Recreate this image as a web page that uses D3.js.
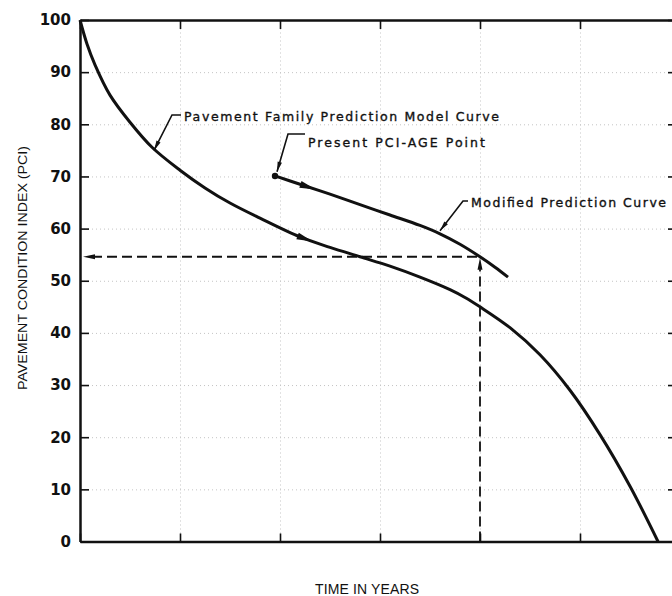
<!DOCTYPE html>
<html>

<head>
  <meta charset="utf-8">
  <title>PCI prediction</title>
  <style>
    body { margin: 0; background: #fff; }
  </style>
</head>

<body>
  <svg width="672" height="596"></svg>
  <script src="https://d3js.org/d3.v7.min.js"></script>
  <script>
    // data (years, PCI)
    var familyYears = [0, 0.07, 0.15, 0.3, 0.5, 0.72, 1.0, 1.25, 1.5, 1.8, 2.2, 2.5, 2.8, 3.1, 3.4, 3.7, 3.85, 4.0, 4.3, 4.6, 4.9, 5.2, 5.5, 5.78];
    var familyPCI = [100, 95.4, 91.4, 85.6, 80.4, 75.6, 71.2, 67.8, 64.9, 62.0, 58.4, 56.4, 54.6, 52.8, 50.7, 48.3, 46.8, 45.0, 41.0, 35.8, 29.0, 20.5, 10.6, 0];
    var modifiedYears = [1.95, 2.2, 2.5, 2.8, 3.1, 3.4, 3.6, 3.8, 4.0, 4.15, 4.28];
    var modifiedPCI = [70.1, 68.5, 66.6, 64.6, 62.6, 60.6, 59.0, 57.0, 54.6, 52.6, 50.7];
    var presentPoint = [1.95, 70.1];
    var targetPoint = [4.0, 54.6];
    var yTicks = [0, 10, 20, 30, 40, 50, 60, 70, 80, 90, 100];
    var xTicks = [0, 1, 2, 3, 4, 5, 6];
    var labels = ["Pavement Family Prediction Model Curve", "Present PCI-AGE Point", "Modified Prediction Curve"];

    var svg = d3.select("svg");
    var xScale = d3.scaleLinear().domain([0, 6]).range([80, 680]);
    var yScale = d3.scaleLinear().domain([0, 100]).range([541.5, 20]);

    var family = familyYears.map((t, i) => [t, familyPCI[i]]);
    var modified = modifiedYears.map((t, i) => [t, modifiedPCI[i]]);

    // dotted grid
    svg.append("g")
      .attr("transform", "translate(0,541.5)")
      .call(d3.axisBottom(xScale).tickValues(xTicks.slice(1)).tickSize(-521.5).tickFormat(""))
      .call(g => g.select(".domain").remove())
      .selectAll("line").attr("stroke", "#c4c4c4").attr("stroke-dasharray", "1,3");
    svg.append("g")
      .attr("transform", "translate(80,0)")
      .call(d3.axisLeft(yScale).tickValues(yTicks.slice(1, -1)).tickSize(-600).tickFormat(""))
      .call(g => g.select(".domain").remove())
      .selectAll("line").attr("stroke", "#c4c4c4").attr("stroke-dasharray", "1,3");

    // frame + inward ticks
    function styleAxis(g) {
      g.select(".domain").attr("stroke", "#111").attr("stroke-width", 2.5);
      g.selectAll(".tick line").attr("stroke", "#111").attr("stroke-width", 1.6);
    }
    svg.append("g").attr("transform", "translate(0,541.5)")
      .call(d3.axisBottom(xScale).tickValues(xTicks).tickSize(-8).tickSizeOuter(0).tickFormat(""))
      .call(styleAxis);
    svg.append("g").attr("transform", "translate(0,20)")
      .call(d3.axisTop(xScale).tickValues(xTicks).tickSize(-9).tickSizeOuter(0).tickFormat(""))
      .call(styleAxis);
    svg.append("g").attr("transform", "translate(680,0)")
      .call(d3.axisRight(yScale).tickValues(yTicks).tickSize(-12).tickSizeOuter(0).tickFormat(""))
      .call(styleAxis);
    svg.append("g").attr("transform", "translate(80,0)")
      .call(d3.axisLeft(yScale).tickValues(yTicks).tickSize(-9).tickSizeOuter(0).tickPadding(9))
      .call(styleAxis)
      .call(g => g.selectAll("text")
        .attr("font-family", "'DejaVu Sans', sans-serif")
        .attr("font-weight", "bold")
        .attr("font-size", 15)
        .attr("fill", "#111"));

    // axis titles
    svg.append("text")
      .attr("transform", "translate(27,268) rotate(-90)")
      .attr("text-anchor", "middle")
      .attr("font-family", "'Liberation Sans', sans-serif")
      .attr("font-size", 13.5)
      .attr("textLength", 244)
      .attr("lengthAdjust", "spacingAndGlyphs")
      .attr("fill", "#111")
      .text("PAVEMENT CONDITION INDEX (PCI)");
    svg.append("text")
      .attr("x", 315).attr("y", 594)
      .attr("font-family", "'Liberation Sans', sans-serif")
      .attr("font-size", 14)
      .attr("textLength", 104)
      .attr("fill", "#111")
      .text("TIME IN YEARS");

    // dashed guide lines
    var guide = d3.line().x(d => xScale(d[0])).y(d => yScale(d[1]));
    svg.append("path")
      .attr("d", guide([[0.12, targetPoint[1]], targetPoint]))
      .attr("fill", "none").attr("stroke", "#111").attr("stroke-width", 1.8)
      .attr("stroke-dasharray", "10,5");
    svg.append("path")
      .attr("d", guide([[targetPoint[0], 0], [targetPoint[0], targetPoint[1] - 2.4]]))
      .attr("fill", "none").attr("stroke", "#111").attr("stroke-width", 1.8)
      .attr("stroke-dasharray", "10,5");

    // curves
    var curveLine = d3.line()
      .x(d => xScale(d[0]))
      .y(d => yScale(d[1]))
      .curve(d3.curveCatmullRom.alpha(0.5));
    var familyPath = svg.append("path")
      .attr("d", curveLine(family))
      .attr("fill", "none").attr("stroke", "#111").attr("stroke-width", 3);
    var modifiedPath = svg.append("path")
      .attr("d", curveLine(modified))
      .attr("fill", "none").attr("stroke", "#111").attr("stroke-width", 3);

    function arrowHead(tip, angle, len, w) {
      var c = Math.cos(angle), s = Math.sin(angle);
      var bx = tip[0] - c * len, by = tip[1] - s * len;
      var pts = [tip, [bx - s * w / 2, by + c * w / 2], [bx + s * w / 2, by - c * w / 2]];
      svg.append("path").attr("d", "M" + pts.join("L") + "Z").attr("fill", "#111");
    }

    // arrow on a curve, centred near the given year
    function curveArrow(path, year) {
      var node = path.node(), total = node.getTotalLength();
      var lo = 0, hi = total, px = xScale(year);
      for (var k = 0; k < 40; k++) {
        var mid = (lo + hi) / 2;
        if (node.getPointAtLength(mid).x < px) lo = mid; else hi = mid;
      }
      var a = node.getPointAtLength(lo - 8), b = node.getPointAtLength(lo + 8);
      var ang = Math.atan2(b.y - a.y, b.x - a.x);
      arrowHead([b.x, b.y], ang, 16, 7);
    }
    curveArrow(familyPath, 2.25);
    curveArrow(modifiedPath, 2.28);

    // guide arrows
    arrowHead([xScale(0) + 3, yScale(targetPoint[1])], Math.PI, 12, 5);
    arrowHead([xScale(targetPoint[0]), yScale(targetPoint[1]) + 1], -Math.PI / 2, 12, 5);

    // present point
    svg.append("circle")
      .attr("cx", xScale(presentPoint[0])).attr("cy", yScale(presentPoint[1]))
      .attr("r", 3.2).attr("fill", "#111");

    // callouts: leader goes from text to the curve
    var callouts = [
      { text: labels[0], tx: 184, ty: 121, width: 315, elbow: [172, 115], tip: [0.74, 75.0] },
      { text: labels[1], tx: 308, ty: 147, width: 177, elbow: [288, 134], tip: [1.97, 70.9] },
      { text: labels[2], tx: 471, ty: 207, width: 195, elbow: [463, 201], tip: [3.6, 59.6] }
    ];
    callouts.forEach(c => {
      var tip = [xScale(c.tip[0]), yScale(c.tip[1])];
      svg.append("path")
        .attr("d", "M" + [c.tx - 3, c.elbow[1]] + "L" + c.elbow + "L" + tip)
        .attr("fill", "none").attr("stroke", "#111").attr("stroke-width", 1.6);
      arrowHead(tip, Math.atan2(tip[1] - c.elbow[1], tip[0] - c.elbow[0]), 10, 4.5);
      svg.append("text")
        .attr("x", c.tx).attr("y", c.ty)
        .attr("font-family", "'DejaVu Sans', sans-serif")
        .attr("font-size", 12.5)
        .attr("textLength", c.width)
        .attr("lengthAdjust", "spacing")
        .attr("fill", "#111")
        .attr("stroke", "#111")
        .attr("stroke-width", 0.35)
        .text(c.text);
    });
  </script>

</body>

</html>
